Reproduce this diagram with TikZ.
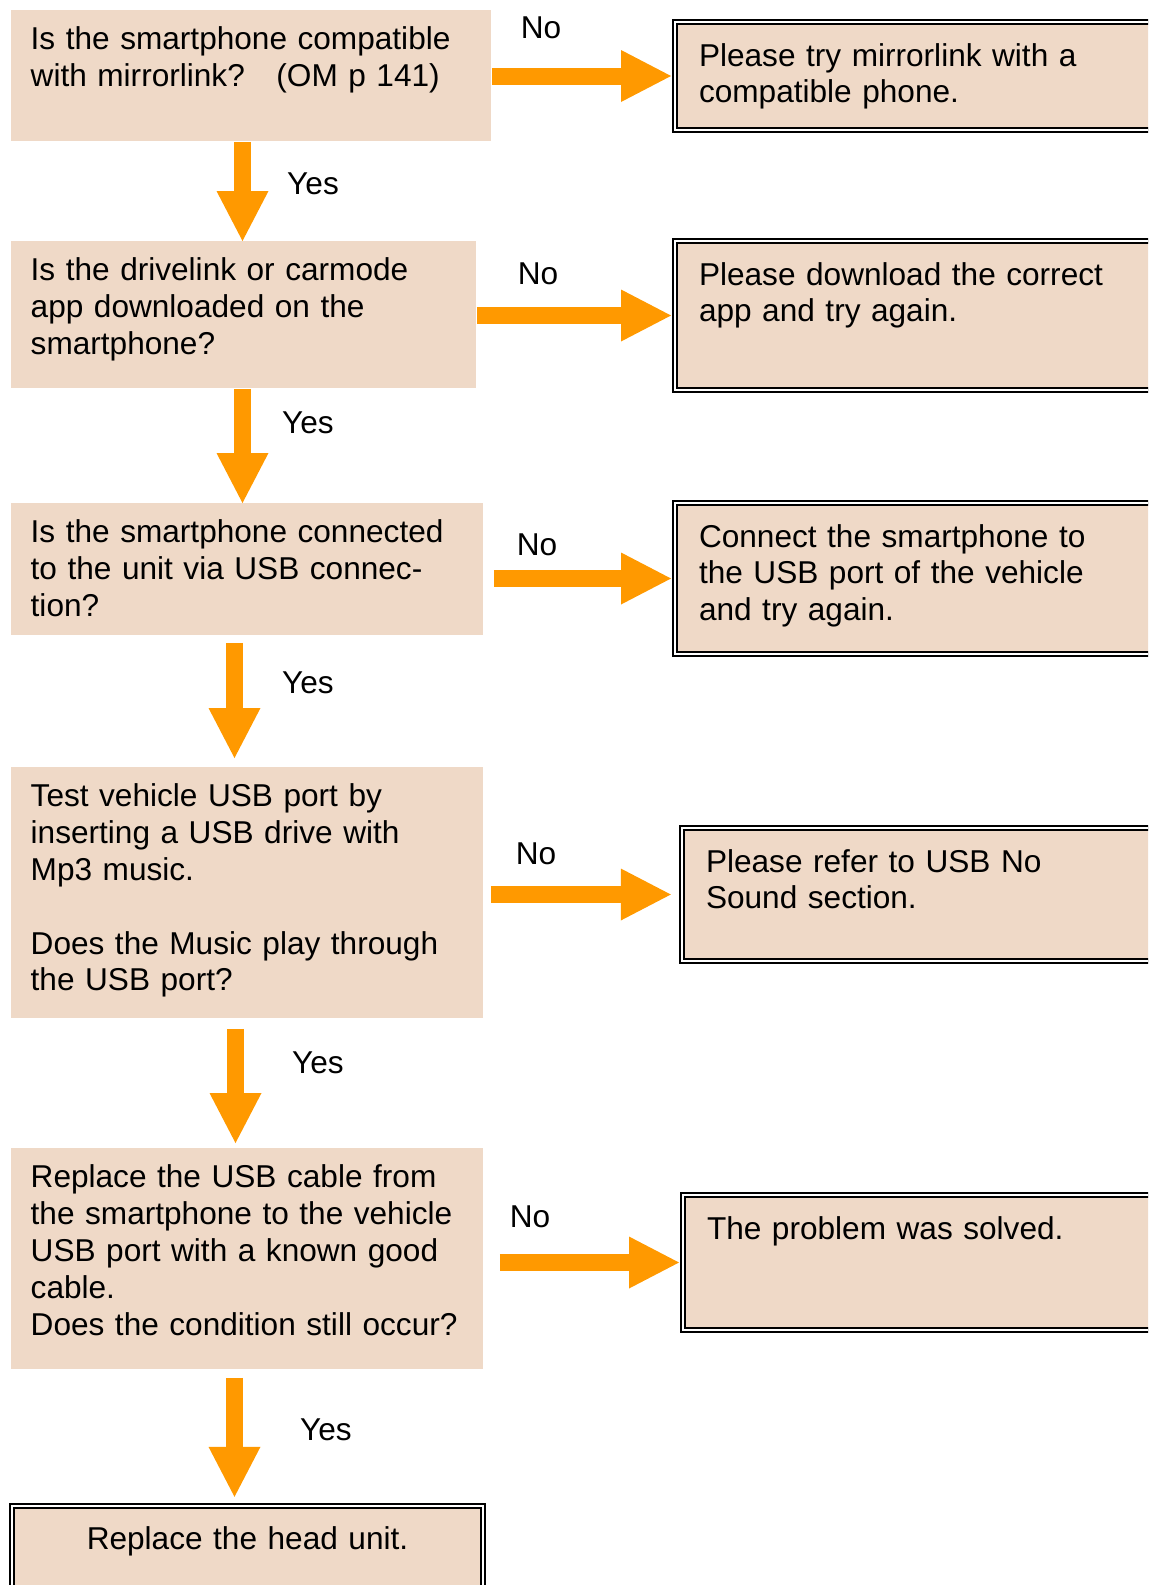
\documentclass[tikz,border=0pt]{standalone}
\usepackage{fontspec}
\setmainfont{Liberation Sans}
\usetikzlibrary{arrows.meta}
\definecolor{boxfill}{RGB}{239,217,199}
\definecolor{arrowor}{RGB}{255,153,0}
\tikzset{
  question/.style={fill=boxfill, anchor=north west, align=left, inner xsep=9.65pt, inner ysep=6.6pt, text height=12.9pt},
  answer/.style={draw, line width=1pt, double=white, double distance=0.8pt, fill=boxfill, anchor=north west, align=left, inner xsep=12.1pt, inner ysep=9.2pt, text height=12.9pt, text width=220.8pt},
  flow/.style={draw=arrowor, line width=8.5pt, -{Triangle[length=25pt,width=26pt,line width=0pt]}},
  lbl/.style={anchor=base, inner sep=0pt}
}
\begin{document}
\begin{tikzpicture}[x=0.5pt,y=-0.5pt,font=\fontsize{15.8}{18.45}\selectfont]
\clip (0,0) rectangle (1148,1585);

% questions
\node[question, text width=220.7pt, text depth=39.4pt] (q1) at (11,10) {Is the smartphone compatible\\with mirrorlink?\quad (OM p 141)};
\node[question, text width=213.2pt, text depth=47.4pt] (q2) at (11,241) {Is the drivelink or carmode\\app downloaded on the\\smartphone?};
\node[question, text width=216.7pt, text depth=39.9pt] (q3) at (11,503) {Is the smartphone connected\\to the unit via USB connec-\\tion?};
\node[question, text width=216.7pt, text depth=99.4pt] (q4) at (11,767) {Test vehicle USB port by\\inserting a USB drive with\\Mp3 music.\\[18.45pt]Does the Music play through\\the USB port?};
\node[question, text width=216.7pt, text depth=84.4pt] (q5) at (11,1148) {Replace the USB cable from\\the smartphone to the vehicle\\USB port with a known good\\cable.\\Does the condition still occur?};

% answers
\node[answer, text depth=22.9pt] (a1) at (673.8,20.8) {Please try mirrorlink with a\\compatible phone.};
\node[answer, text depth=43.4pt] (a2) at (673.8,239.8) {Please download the correct\\app and try again.};
\node[answer, text depth=44.4pt] (a3) at (673.8,501.8) {Connect the smartphone to\\the USB port of the vehicle\\and try again.};
\node[answer, text depth=35.4pt] (a4) at (680.8,826.8) {Please refer to USB No\\Sound section.};
\node[answer, text depth=36.4pt] (a5) at (681.8,1193.8) {The problem was solved.};
\node[answer, align=center, text width=211.5pt, inner ysep=8.7pt, text depth=40pt] (a6) at (10.8,1504.8) {Replace the head unit.};

% no arrows
\draw[flow, shorten >=1.4pt] (q1.east |- a1.west) -- (a1.west);
\draw[flow, shorten >=1.4pt] (q2.east |- a2.west) -- (a2.west);
\draw[flow, shorten <=5pt, shorten >=1.4pt] (q3.east |- a3.west) -- (a3.west);
\draw[flow, shorten <=3.5pt, shorten >=5pt] (q4.east |- a4.west) -- (a4.west);
\draw[flow, shorten <=8pt, shorten >=1.4pt] (q5.east |- a5.west) -- (a5.west);

% yes arrows
\draw[flow] (242.5,0 |- q1.south) -- (242.5,0 |- q2.north);
\draw[flow] (242.5,0 |- q2.south) -- (242.5,0 |- q3.north);
\draw[flow, shorten <=3.5pt, shorten >=4.5pt] (234.5,0 |- q3.south) -- (234.5,0 |- q4.north);
\draw[flow, shorten <=5pt, shorten >=2.5pt] (235.5,0 |- q4.south) -- (235.5,0 |- q5.north);
\draw[flow, shorten <=4pt, shorten >=4pt] (234.5,0 |- q5.south) -- (234.5,0 |- a6.north);

% labels
\node[lbl] (no1) at (541,38.5) {No};
\node[lbl] (no2) at (538,284.5) {No};
\node[lbl] (no3) at (537,555.5) {No};
\node[lbl] (no4) at (536,864.5) {No};
\node[lbl] (no5) at (530,1227.5) {No};
\node[lbl] (yes1) at (313,194.5) {Yes};
\node[lbl] (yes2) at (308,433.5) {Yes};
\node[lbl] (yes3) at (308,693.5) {Yes};
\node[lbl] (yes4) at (318,1073.5) {Yes};
\node[lbl] (yes5) at (326,1440.5) {Yes};
\end{tikzpicture}
\end{document}
